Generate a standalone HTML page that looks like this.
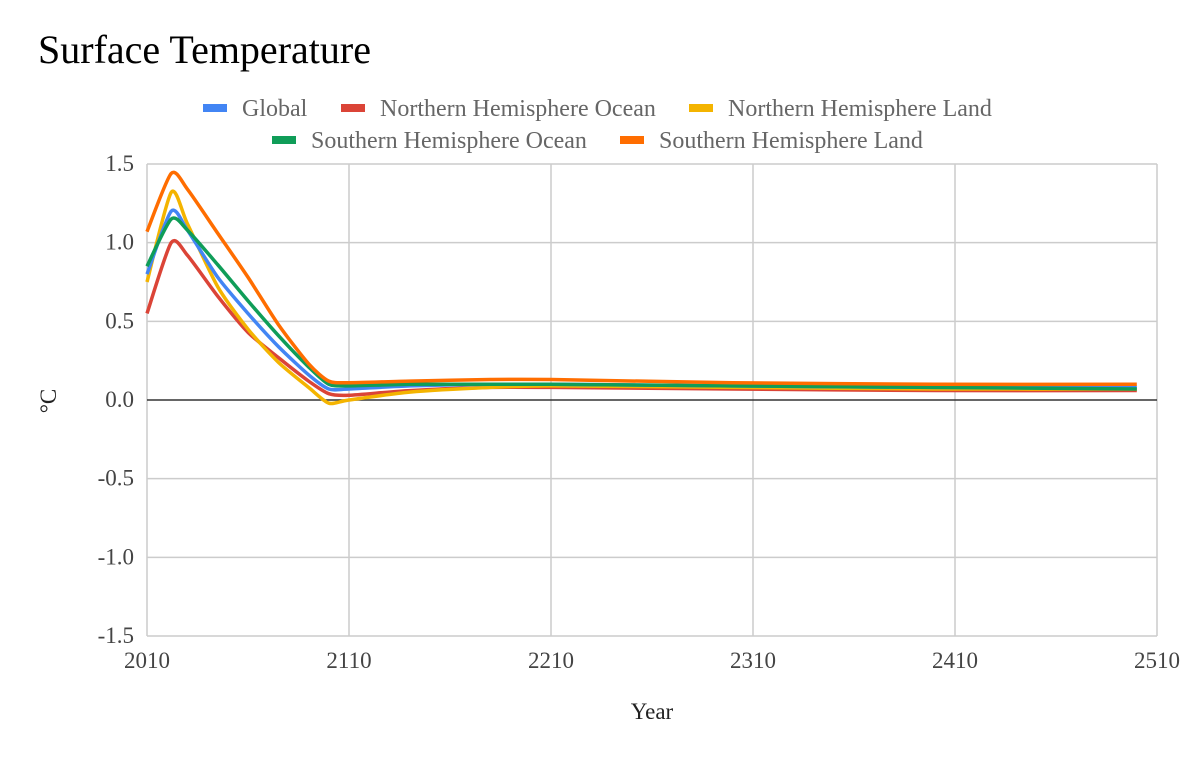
<!DOCTYPE html>
<html><head><meta charset="utf-8"><style>
body{margin:0;background:#fff;font-family:"Liberation Serif",serif}
svg text{font-family:"Liberation Serif",serif}
</style></head><body>
<svg width="1194" height="754" xmlns="http://www.w3.org/2000/svg">
<rect width="1194" height="754" fill="#fff"/>
<text x="38" y="63" font-size="40" fill="#000">Surface Temperature</text>
<g id="legend"></g>
<g id="grid"></g>
<g id="series"></g>
<text x="652" y="719" font-size="23" fill="#222" text-anchor="middle">Year</text>
<text transform="translate(56,401) rotate(-90)" font-size="23" fill="#222" text-anchor="middle">°C</text>
</svg>
<script>
const xTicks=[2010,2110,2210,2310,2410,2510];
const yTicks=[-1.5,-1.0,-0.5,0.0,0.5,1.0,1.5];
const seriesNames=["Global","Northern Hemisphere Ocean","Northern Hemisphere Land","Southern Hemisphere Ocean","Southern Hemisphere Land"];
const seriesColors=["#4285f4","#db4437","#f4b400","#0f9d58","#ff6d00"];
const years=[2010,2022,2030,2045,2060,2075,2090,2100,2110,2140,2180,2210,2300,2400,2500];
const globalVals=[0.80,1.20,1.08,0.78,0.55,0.34,0.16,0.07,0.07,0.09,0.10,0.10,0.09,0.08,0.08];
const nhOceanVals=[0.55,1.00,0.92,0.66,0.43,0.27,0.12,0.04,0.03,0.06,0.08,0.08,0.07,0.06,0.06];
const nhLandVals=[0.75,1.32,1.12,0.72,0.45,0.24,0.08,-0.02,0.00,0.05,0.08,0.09,0.08,0.07,0.07];
const shOceanVals=[0.85,1.15,1.08,0.86,0.63,0.41,0.21,0.10,0.09,0.10,0.10,0.10,0.09,0.08,0.07];
const shLandVals=[1.07,1.44,1.34,1.06,0.78,0.48,0.23,0.12,0.11,0.12,0.13,0.13,0.11,0.10,0.10];
const allVals=[globalVals,nhOceanVals,nhLandVals,shOceanVals,shLandVals];
const X0=147,X1=1157,Y0=636,Y1=164;
const xs=y=>X0+(y-2010)/(500)*(X1-X0);
const ys=v=>Y0-(v+1.5)/3*(Y0-Y1);
const NS="http://www.w3.org/2000/svg";
function mk(t,a,p){const e=document.createElementNS(NS,t);for(const k in a)e.setAttribute(k,a[k]);p.appendChild(e);return e;}
const grid=document.getElementById('grid');
xTicks.forEach(t=>{
 const l=mk('line',{x1:xs(t),x2:xs(t),y1:Y1,y2:Y0,stroke:'#ccc','stroke-width':1.5},grid);
 
 
 const tx=mk('text',{x:xs(t),y:668,'font-size':23,fill:'#444','text-anchor':'middle'},grid);tx.textContent=t;
 
 
});
yTicks.forEach(t=>{
 const l=mk('line',{x1:X0,x2:X1,y1:ys(t),y2:ys(t),stroke:t===0?'#333':'#ccc','stroke-width':1.5},grid);
 
 
 const tx=mk('text',{x:134,y:ys(t)+7,'font-size':23,fill:'#444','text-anchor':'end'},grid);tx.textContent=t.toFixed(1);
 
 
});
function path(vals){
 const p=years.map((y,i)=>[xs(y),ys(vals[i])]);
 let d='M'+p[0][0]+','+p[0][1];
 for(let i=0;i<p.length-1;i++){
  const p0=p[i-1]||p[i],p1=p[i],p2=p[i+1],p3=p[i+2]||p2;
  const t=0.12;
  d+=` C${p1[0]+(p2[0]-p0[0])*t},${p1[1]+(p2[1]-p0[1])*t} ${p2[0]-(p3[0]-p1[0])*t},${p2[1]-(p3[1]-p1[1])*t} ${p2[0]},${p2[1]}`;
 }
 return d;
}
const ser=document.getElementById('series');
const order=[1,2,0,3,4];
order.forEach(i=>{
 const el=mk('path',{d:path(allVals[i]),fill:'none',stroke:seriesColors[i],'stroke-width':3.5,'stroke-linejoin':'round'},ser);
 
 
});
const leg=document.getElementById('legend');
const legPos=[[203,108],[341,108],[689,108],[272,140],[620,140]];
seriesNames.forEach((n,i)=>{
 const g=mk('g',{},leg);
 
 
 mk('rect',{x:legPos[i][0],y:legPos[i][1]-4,width:24,height:8,fill:seriesColors[i]},g);
 const t=mk('text',{x:legPos[i][0]+39,y:legPos[i][1]+8,'font-size':24,fill:'#666'},g);t.textContent=n;
});
</script>
</body></html>
